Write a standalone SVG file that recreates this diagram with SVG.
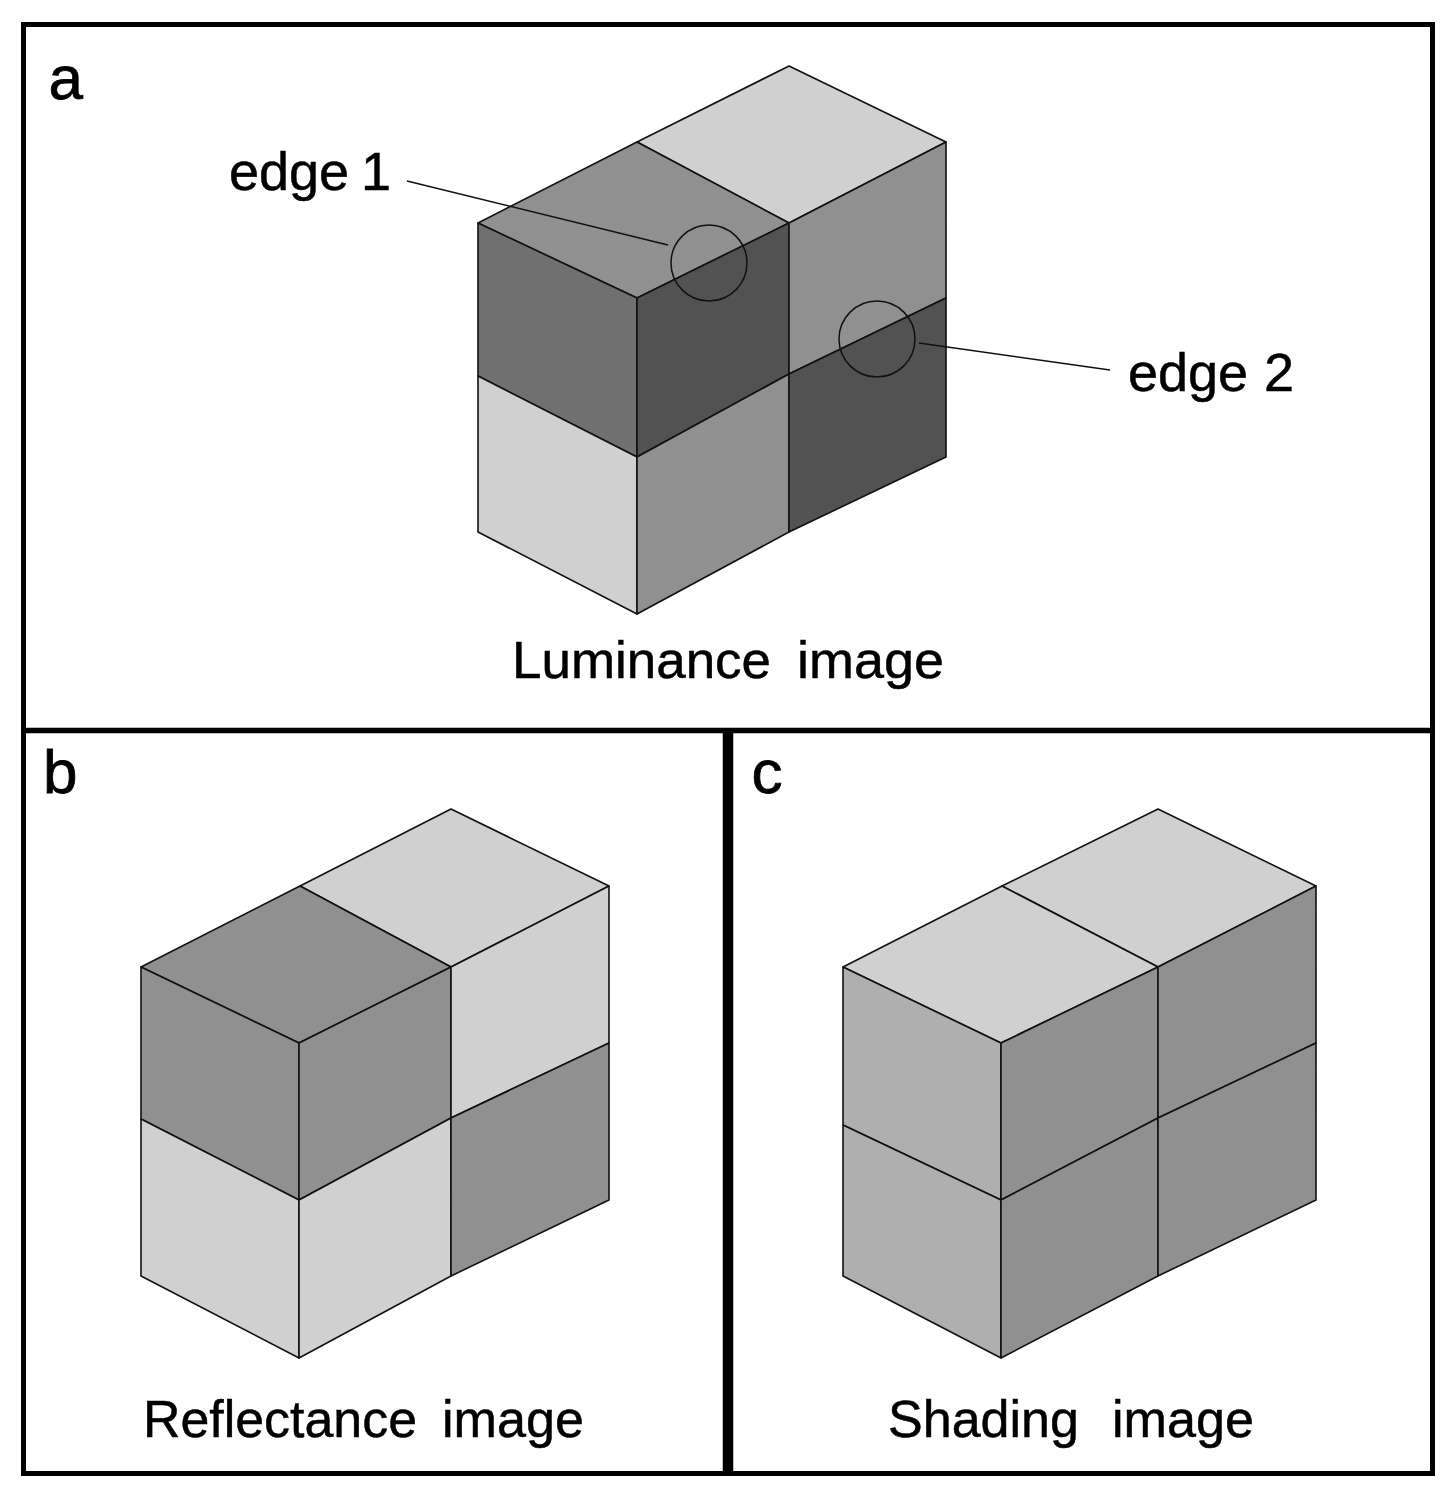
<svg xmlns="http://www.w3.org/2000/svg" width="1456" height="1500" viewBox="0 0 1456 1500">
<style>
.f{stroke:#111;stroke-width:1.6;stroke-linejoin:round}
.l{fill:#d0d0d0}.m{fill:#909090}.d{fill:#525252}.n{fill:#707070}.s{fill:#afafaf}
.t{font-family:"Liberation Sans",Arial,sans-serif;fill:#000;stroke:#000;stroke-width:.5;font-size:52.5px}
.e{font-size:54px}
.p{font-size:62px;stroke-width:.8}
.b{fill:none;stroke:#000}
.c{fill:none;stroke:#111;stroke-width:1.5}
</style>
<rect width="1456" height="1500" fill="#fff"/>
<g id="frame">
<rect class="b" x="23.500" y="24.500" width="1409" height="1449" stroke-width="5"/>
<path class="b" d="M23 730.500H1433" stroke-width="5.500"/>
<path class="b" d="M728 730V1474" stroke-width="10.500"/>
</g>
<g id="panel-a">
<polygon class="f l" points="637,142 789,66 946,142 789,223"/>
<polygon class="f m" points="478,223 637,142 789,223 637,298"/>
<polygon class="f n" points="478,223 637,298 637,457 478,376"/>
<polygon class="f d" points="637,298 789,223 789,374 637,457"/>
<polygon class="f m" points="789,223 946,142 946,298 789,374"/>
<polygon class="f l" points="478,376 637,457 637,614 478,532"/>
<polygon class="f m" points="637,457 789,374 789,532 637,614"/>
<polygon class="f d" points="789,374 946,298 946,457 789,532"/>
<circle class="c" cx="709" cy="263" r="38"/>
<circle class="c" cx="877" cy="339" r="38"/>
<path class="c" d="M407 181L668 245M919 343L1110 370"/>
<text class="t p" x="48.500" y="99">a</text>
<text class="t e" y="189.500"><tspan x="229">edge</tspan> <tspan x="361">1</tspan></text>
<text class="t e" y="391"><tspan x="1128">edge</tspan> <tspan x="1264">2</tspan></text>
<text class="t" y="678"><tspan x="512" textLength="259" lengthAdjust="spacingAndGlyphs">Luminance</tspan> <tspan x="797" textLength="147" lengthAdjust="spacingAndGlyphs">image</tspan></text>
</g>
<g id="panel-b">
<polygon class="f l" points="300,886 451,809 609,886 451,967"/>
<polygon class="f m" points="141,967 300,886 451,967 299,1043"/>
<polygon class="f m" points="141,967 299,1043 299,1200 141,1119"/>
<polygon class="f m" points="299,1043 451,967 451,1118 299,1200"/>
<polygon class="f l" points="451,967 609,886 609,1043 451,1118"/>
<polygon class="f l" points="141,1119 299,1200 299,1358 141,1276"/>
<polygon class="f l" points="299,1200 451,1118 451,1276 299,1358"/>
<polygon class="f m" points="451,1118 609,1043 609,1200 451,1276"/>
<text class="t p" x="43" y="793">b</text>
<text class="t" y="1437"><tspan x="143" textLength="274" lengthAdjust="spacingAndGlyphs">Reflectance</tspan> <tspan x="442" textLength="142" lengthAdjust="spacingAndGlyphs">image</tspan></text>
</g>
<g id="panel-c">
<polygon class="f l" points="1002,886 1158,809 1316,886 1158,967"/>
<polygon class="f l" points="843,967 1002,886 1158,967 1001,1043"/>
<polygon class="f s" points="843,967 1001,1043 1001,1200 843,1125"/>
<polygon class="f m" points="1001,1043 1158,967 1158,1118 1001,1200"/>
<polygon class="f m" points="1158,967 1316,886 1316,1043 1158,1118"/>
<polygon class="f s" points="843,1125 1001,1200 1001,1358 843,1276"/>
<polygon class="f m" points="1001,1200 1158,1118 1158,1276 1001,1358"/>
<polygon class="f m" points="1158,1118 1316,1043 1316,1200 1158,1276"/>
<text class="t p" x="751.500" y="793">c</text>
<text class="t" y="1437"><tspan x="888" textLength="191" lengthAdjust="spacingAndGlyphs">Shading</tspan> <tspan x="1112" textLength="142" lengthAdjust="spacingAndGlyphs">image</tspan></text>
</g>
</svg>
